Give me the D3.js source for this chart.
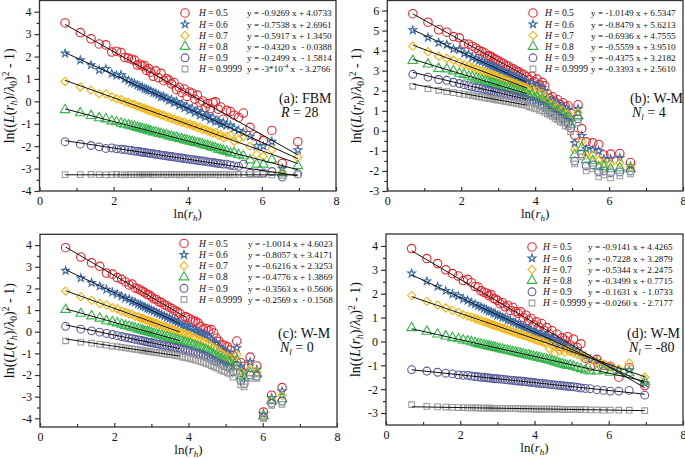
<!DOCTYPE html>
<html><head><meta charset="utf-8">
<script src="https://cdn.jsdelivr.net/npm/d3@7"></script>
<style>
body{margin:0;background:#fff}
svg{display:block}
text{font-family:"Liberation Serif","Times New Roman",serif;fill:#111}
</style>
</head><body>
<svg id="chart" width="685" height="459"></svg>
<script>
// ---------------- DATA ----------------
const hLabels = ["0.5","0.6","0.7","0.8","0.9","0.9999"];
const xTicks = [0,2,4,6,8];
const xMinorTicks = [1,3,5,7];

// ln(r_h) positions
const xCore = [0.69,1.10,1.39,1.61,1.79,1.95,2.08,2.20,2.30,2.40,2.48,2.56,2.64,2.71,2.77,2.83,2.89,2.94,
  3.00,3.07,3.14,3.21,3.28,3.35,3.42,3.49,3.56,3.63,3.70,3.77,3.84,3.91,3.98,4.05,4.12,4.19,4.26,4.33,4.40,4.47,4.54,4.61,4.68,4.75,4.82,4.89,4.96];
const xTailA = [5.05,5.15,5.25,5.37,5.50,5.68,5.86,6.04,6.27,6.55,6.97];
const xTailB = [5.07,5.16,5.26,5.38,5.56,5.72,5.86,6.04,6.29,6.58];
const xTailC = [5.05,5.12,5.20,5.30,5.41,5.50,5.66,5.84,6.02,6.24,6.52];
const xTailD = [5.05,5.15,5.25,5.37,5.50,5.68,5.86,6.04,6.27,6.55,6.97];

// Panel (a) FBM R=28
const aRed = [3.50,3.07,2.79,2.56,2.52,2.20,2.24,2.18,1.96,1.93,1.88,1.84,1.62,1.66,1.58,1.60,1.38,1.47,
  1.30,1.12,1.36,1.05,1.25,0.92,1.02,0.95,0.78,0.84,0.52,0.62,0.40,0.55,0.22,0.42,0.36,0.10,0.28,-0.05,0.02,-0.28,-0.10,-0.32,-0.05,-0.02,-0.35,-0.25,-0.80,
  -0.40,-0.45,-0.62,-0.72,-0.52,-1.16,-1.57,-1.75,-1.30,-2.77,-1.80];
const aBlue = [2.14,1.84,1.62,1.40,1.45,1.24,1.15,1.18,1.00,0.93,0.84,0.80,0.72,0.66,0.64,0.56,0.54,0.50,
  0.46,0.38,0.36,0.30,0.20,0.22,0.14,0.04,0.08,-0.06,-0.02,-0.18,-0.12,-0.30,-0.22,-0.40,-0.32,-0.50,-0.42,-0.62,-0.52,-0.70,-0.64,-0.82,-0.72,-0.90,-0.88,-1.02,-0.95,
  -1.08,-1.07,-1.20,-1.30,-1.40,-1.57,-2.00,-2.00,-1.80,-3.00,-2.17];
const aYellow = [0.89,0.64,0.50,0.33,0.33,0.20,0.12,0.08,-0.02,-0.05,-0.12,-0.14,-0.22,-0.24,-0.30,-0.30,-0.38,-0.37,
  -0.44,-0.46,-0.52,-0.53,-0.60,-0.62,-0.70,-0.70,-0.78,-0.78,-0.86,-0.86,-0.94,-0.93,-1.02,-1.00,-1.08,-1.10,-1.18,-1.15,-1.26,-1.25,-1.33,-1.36,-1.42,-1.40,-1.52,-1.50,-1.62,
  -1.56,-1.52,-1.78,-1.70,-1.57,-2.00,-2.37,-2.44,-2.15,-3.15,-2.50];
const aGreen = [-0.38,-0.52,-0.64,-0.74,-0.79,-0.88,-0.92,-0.98,-1.03,-1.06,-1.10,-1.13,-1.17,-1.20,-1.22,-1.26,-1.27,-1.30,
  -1.33,-1.37,-1.38,-1.43,-1.44,-1.49,-1.50,-1.55,-1.56,-1.61,-1.62,-1.67,-1.68,-1.72,-1.74,-1.78,-1.80,-1.84,-1.86,-1.88,-1.92,-1.96,-1.98,-2.02,-2.06,-2.08,-2.14,-2.16,-2.20,
  -2.24,-2.31,-2.30,-2.38,-2.44,-2.62,-2.81,-2.81,-2.60,-3.20,-2.88];
const aPurple = [-1.80,-1.91,-1.97,-2.03,-2.10,-2.08,-2.12,-2.14,-2.15,-2.18,-2.19,-2.22,-2.23,-2.25,-2.27,-2.28,-2.30,-2.31,
  -2.32,-2.34,-2.36,-2.37,-2.40,-2.41,-2.43,-2.45,-2.46,-2.48,-2.50,-2.52,-2.53,-2.55,-2.57,-2.58,-2.60,-2.62,-2.63,-2.65,-2.66,-2.68,-2.70,-2.71,-2.73,-2.75,-2.77,-2.78,-2.80,
  -2.80,-2.85,-2.88,-2.90,-2.80,-3.20,-3.20,-3.20,-3.13,-3.38,-3.24];
const aGray = [-3.27,-3.27,-3.26,-3.27,-3.28,-3.27,-3.26,-3.27,-3.28,-3.27,-3.27,-3.26,-3.27,-3.28,-3.27,-3.27,-3.26,-3.27,
  -3.27,-3.28,-3.27,-3.26,-3.27,-3.27,-3.28,-3.27,-3.26,-3.27,-3.27,-3.28,-3.27,-3.26,-3.27,-3.27,-3.28,-3.27,-3.26,-3.27,-3.27,-3.28,-3.27,-3.26,-3.27,-3.27,-3.28,-3.27,-3.27,
  -3.27,-3.28,-3.27,-3.26,-3.27,-3.28,-3.27,-3.27,-3.28,-3.30,-3.27];

// Panel (b) W-M Nl=4
const bRed = [5.84,5.42,5.04,4.92,4.70,4.64,4.34,4.32,4.22,4.12,4.00,3.95,3.88,3.75,3.74,3.68,3.60,3.56,
  3.50,3.42,3.36,3.26,3.22,3.12,3.08,2.98,2.94,2.84,2.80,2.70,
  2.55,2.72,2.45,2.58,2.30,2.42,2.25,1.85,1.62,1.70,1.45,1.55,1.30,1.40,1.20,1.25,0.88,
  -0.22,1.30,0.11,-0.55,-0.60,-0.68,-1.20,-1.16,-1.13,-1.58];
const bBlue = [5.02,4.66,4.40,4.30,4.08,4.05,3.86,3.80,3.66,3.60,3.50,3.46,3.38,3.33,3.27,3.22,3.18,3.12,
  3.08,3.00,2.96,2.90,2.84,2.78,2.72,2.66,2.60,2.54,2.48,2.42,
  2.28,2.41,2.18,2.28,2.04,2.14,1.98,1.65,1.45,1.50,1.28,1.35,1.13,1.20,1.01,1.04,0.69,
  -0.60,1.10,-0.25,-0.90,-0.95,-1.00,-1.40,-1.40,-1.35,-1.75];
const bYellow = [4.22,3.95,3.72,3.62,3.52,3.40,3.30,3.24,3.16,3.08,3.03,2.98,2.92,2.88,2.83,2.80,2.75,2.72,
  2.67,2.63,2.57,2.53,2.48,2.43,2.38,2.34,2.28,2.24,2.18,2.14,
  2.02,2.12,1.93,2.00,1.80,1.87,1.73,1.46,1.29,1.32,1.13,1.16,0.97,1.01,0.83,0.84,0.52,
  -0.95,0.92,-0.55,-1.20,-1.20,-1.48,-1.60,-1.65,-1.60,-1.80];
const bGreen = [3.50,3.32,3.10,3.08,2.98,2.86,2.80,2.72,2.68,2.62,2.57,2.53,2.48,2.45,2.41,2.38,2.34,2.32,
  2.28,2.24,2.21,2.16,2.13,2.09,2.05,2.01,1.97,1.93,1.89,1.85,
  1.74,1.80,1.65,1.69,1.53,1.57,1.45,1.25,1.12,1.11,0.95,0.95,0.79,0.80,0.63,0.62,0.32,
  -1.20,0.75,-0.85,-1.45,-1.50,-1.80,-1.80,-1.90,-1.85,-1.90];
const bPurple = [2.82,2.68,2.56,2.52,2.42,2.36,2.30,2.25,2.20,2.16,2.13,2.09,2.06,2.03,2.00,1.98,1.95,1.93,
  1.90,1.87,1.84,1.81,1.78,1.75,1.72,1.69,1.66,1.63,1.60,1.57,
  1.47,1.49,1.39,1.40,1.28,1.28,1.19,1.05,0.95,0.92,0.79,0.75,0.62,0.60,0.44,0.41,0.14,
  -1.50,0.60,-1.15,-1.75,-1.70,-2.05,-2.00,-2.10,-2.05,-2.00];
const bGray = [2.22,2.10,2.02,1.96,1.90,1.86,1.82,1.79,1.76,1.73,1.70,1.68,1.65,1.63,1.61,1.59,1.57,1.55,
  1.53,1.51,1.48,1.46,1.44,1.41,1.39,1.37,1.34,1.32,1.29,1.27,
  1.20,1.18,1.12,1.10,1.02,1.00,0.92,0.85,0.78,0.72,0.62,0.55,0.45,0.40,0.25,0.20,-0.05,
  -1.65,0.40,-1.30,-2.00,-1.90,-2.30,-2.20,-2.35,-2.25,-2.15];

// Panel (c) W-M Nl=0
const cRed = [3.88,3.45,3.18,3.02,2.71,2.66,2.50,2.42,2.30,2.16,2.20,2.02,1.98,1.92,1.86,1.80,1.72,1.70,
  1.62,1.52,1.48,1.38,1.35,1.24,1.20,1.12,1.06,0.98,0.92,0.84,0.55,0.70,
  0.65,0.58,0.50,0.48,0.40,0.25,0.12,0.15,0.05,0.10,-0.06,-0.30,-0.45,-0.60,-0.62,
  -0.70,-0.85,-1.10,-0.43,-1.43,-1.59,-1.17,-1.58,-3.71,-2.93,-2.58];
const cBlue = [2.82,2.48,2.26,2.10,1.95,1.82,1.74,1.64,1.55,1.50,1.40,1.36,1.28,1.24,1.18,1.14,1.08,1.05,
  1.00,0.95,0.88,0.84,0.77,0.72,0.66,0.61,0.55,0.50,0.44,0.38,
  0.30,0.28,0.20,0.18,0.10,0.05,-0.02,-0.05,-0.12,-0.15,-0.25,-0.35,-0.48,-0.55,-0.70,-0.80,-0.88,
  -0.95,-1.05,-1.25,-0.75,-1.60,-1.80,-1.40,-1.75,-3.80,-3.05,-2.75];
const cYellow = [1.88,1.62,1.45,1.30,1.24,1.10,1.05,0.95,0.90,0.82,0.80,0.72,0.70,0.63,0.61,0.56,0.53,0.49,
  0.46,0.41,0.38,0.32,0.29,0.24,0.20,0.15,0.12,0.06,0.03,-0.02,
  -0.08,-0.10,-0.16,-0.18,-0.25,-0.30,-0.36,-0.40,-0.46,-0.50,-0.58,-0.65,-0.75,-0.82,-0.92,-1.00,-1.08,
  -1.15,-1.25,-1.45,-1.05,-1.85,-2.00,-1.70,-1.85,-3.85,-3.15,-2.95];
const cGreen = [1.02,0.84,0.72,0.62,0.50,0.45,0.40,0.34,0.28,0.24,0.20,0.16,0.12,0.09,0.06,0.03,0.00,-0.02,
  -0.05,-0.08,-0.12,-0.15,-0.18,-0.22,-0.25,-0.28,-0.32,-0.35,-0.38,-0.42,
  -0.47,-0.49,-0.54,-0.56,-0.62,-0.66,-0.70,-0.74,-0.80,-0.84,-0.90,-0.96,-1.04,-1.10,-1.18,-1.25,-1.32,
  -1.38,-1.45,-1.62,-1.30,-2.05,-2.15,-1.90,-1.95,-3.90,-3.20,-3.10];
const cPurple = [0.25,0.12,0.04,-0.02,-0.08,-0.13,-0.18,-0.22,-0.26,-0.29,-0.32,-0.35,-0.38,-0.40,-0.42,-0.45,-0.47,-0.49,
  -0.51,-0.53,-0.56,-0.58,-0.61,-0.63,-0.66,-0.68,-0.71,-0.73,-0.76,-0.78,
  -0.82,-0.84,-0.88,-0.90,-0.95,-0.98,-1.02,-1.05,-1.10,-1.14,-1.20,-1.26,-1.33,-1.38,-1.45,-1.50,-1.56,
  -1.62,-1.68,-1.85,-1.55,-2.25,-2.40,-2.00,-2.05,-3.95,-3.30,-3.20];
const cGray = [-0.42,-0.48,-0.53,-0.58,-0.62,-0.66,-0.69,-0.72,-0.75,-0.77,-0.79,-0.81,-0.83,-0.85,-0.87,-0.88,-0.90,-0.91,
  -0.93,-0.95,-0.96,-0.98,-1.00,-1.02,-1.04,-1.05,-1.07,-1.09,-1.11,-1.13,
  -1.17,-1.19,-1.22,-1.24,-1.28,-1.31,-1.35,-1.38,-1.42,-1.46,-1.51,-1.56,-1.62,-1.67,-1.73,-1.78,-1.84,
  -1.90,-1.96,-2.10,-1.85,-2.45,-2.55,-2.15,-2.15,-4.00,-3.40,-3.35];

// Panel (d) W-M Nl=-80
const dRed = [3.89,3.47,3.26,3.00,2.84,2.74,2.55,2.60,2.46,2.30,2.28,2.12,2.06,2.02,1.92,1.96,1.80,1.78,
  1.72,1.58,1.62,1.45,1.52,1.30,1.42,1.25,1.18,1.24,1.00,1.10,0.88,0.96,0.70,0.82,0.60,0.75,0.45,0.58,0.30,0.45,0.12,0.30,-0.20,0.15,0.05,0.20,-0.15,
  0.10,-0.25,-0.10,-0.70,-1.05,-0.75,-1.00,-1.05,-1.50,-1.10,-1.85];
const dBlue = [2.85,2.52,2.30,2.12,1.98,1.90,1.78,1.72,1.62,1.56,1.48,1.44,1.38,1.33,1.27,1.25,1.19,1.17,
  1.10,1.08,1.00,0.98,0.90,0.88,0.80,0.78,0.70,0.68,0.60,0.57,0.50,0.48,0.40,0.38,0.30,0.32,0.20,0.22,0.10,0.12,0.00,0.02,-0.10,-0.08,-0.20,-0.22,-0.30,
  -0.35,-0.42,-0.52,-0.62,-0.75,-0.80,-1.00,-1.05,-1.20,-1.20,-1.75];
const dYellow = [1.92,1.68,1.52,1.40,1.30,1.22,1.12,1.06,1.02,0.96,0.90,0.88,0.82,0.80,0.76,0.72,0.70,0.66,
  0.62,0.60,0.55,0.52,0.48,0.44,0.40,0.36,0.32,0.30,0.26,0.22,0.18,0.14,0.10,0.06,0.02,0.00,-0.05,-0.08,-0.30,-0.15,-0.50,-0.20,-0.40,-0.30,-0.45,-0.35,-0.42,
  -0.48,-0.55,-0.60,-0.65,-0.80,-0.85,-0.95,-1.05,-1.15,-0.90,-1.50];
const dGreen = [0.57,0.42,0.30,0.22,0.15,0.10,0.05,0.02,-0.02,-0.06,-0.10,-0.12,-0.15,-0.18,-0.20,-0.22,-0.24,-0.26,
  -0.28,-0.31,-0.33,-0.36,-0.38,-0.41,-0.43,-0.46,-0.48,-0.51,-0.53,-0.56,-0.58,-0.61,-0.63,-0.66,-0.68,-0.71,-0.73,-0.76,-0.78,-0.82,-0.86,-0.88,-0.92,-0.95,-0.98,-1.02,-1.00,
  -1.05,-1.10,-1.15,-1.20,-1.25,-1.25,-1.22,-1.30,-1.30,-1.32,-1.67];
const dPurple = [-1.18,-1.24,-1.29,-1.33,-1.36,-1.40,-1.42,-1.42,-1.45,-1.47,-1.48,-1.50,-1.50,-1.52,-1.53,-1.54,-1.55,-1.56,
  -1.56,-1.58,-1.58,-1.60,-1.61,-1.62,-1.63,-1.65,-1.66,-1.66,-1.68,-1.69,-1.70,-1.71,-1.72,-1.74,-1.75,-1.76,-1.77,-1.78,-1.80,-1.81,-1.82,-1.83,-1.84,-1.85,-1.87,-1.88,-1.89,
  -1.90,-1.92,-1.95,-1.97,-1.98,-2.02,-2.05,-2.08,-2.08,-2.05,-2.25];
const dGray = [-2.65,-2.72,-2.74,-2.75,-2.76,-2.77,-2.77,-2.78,-2.78,-2.78,-2.78,-2.79,-2.79,-2.79,-2.79,-2.79,-2.80,-2.80,
  -2.80,-2.80,-2.80,-2.80,-2.81,-2.81,-2.81,-2.81,-2.81,-2.82,-2.82,-2.82,-2.82,-2.82,-2.83,-2.83,-2.83,-2.83,-2.83,-2.84,-2.84,-2.84,-2.84,-2.84,-2.84,-2.85,-2.85,-2.85,-2.85,
  -2.85,-2.85,-2.86,-2.86,-2.87,-2.87,-2.88,-2.88,-2.88,-2.88,-2.90];

// fitted lines: [slope, intercept]
const fitA = [[-0.9269,4.0733],[-0.7538,2.6961],[-0.5917,1.3450],[-0.4320,-0.0388],[-0.2499,-1.5814],[-0.0003,-3.2766]];
const fitB = [[-1.0149,6.5347],[-0.8479,5.6213],[-0.6936,4.7555],[-0.5559,3.9510],[-0.4375,3.2182],[-0.3393,2.5610]];
const fitC = [[-1.0014,4.6023],[-0.8057,3.4171],[-0.6216,2.3253],[-0.4776,1.3869],[-0.3563,0.5606],[-0.2569,-0.1568]];
const fitD = [[-0.9141,4.4265],[-0.7228,3.2879],[-0.5344,2.2475],[-0.3499,0.7715],[-0.1631,-1.0733],[-0.0260,-2.7177]];
// fit x-ranges
const fitRangeA = [[0.69,6.97],[0.69,6.97],[0.69,6.97],[0.69,6.97],[0.69,6.97],[0.69,6.97]];
const fitRangeB = [[0.69,3.77],[0.69,3.77],[0.69,3.77],[0.69,3.77],[0.69,3.77],[0.69,3.77]];
const fitRangeC = [[0.69,3.91],[0.69,3.77],[0.69,3.77],[0.69,3.77],[0.69,3.77],[0.69,3.77]];
const fitRangeD = [[0.69,6.97],[0.69,6.97],[0.69,6.97],[0.69,6.97],[0.69,6.97],[0.69,6.97]];

// legend equation texts
const eqA = ["y = -0.9269 x + 4.0733","y = -0.7538 x + 2.6961","y = -0.5917 x + 1.3450","y = -0.4320 x  - 0.0388","y = -0.2499 x  - 1.5814","y = -3*10|-4| x  - 3.2766"];
const eqB = ["y = -1.0149 x + 6.5347","y = -0.8479 x + 5.6213","y = -0.6936 x + 4.7555","y = -0.5559 x + 3.9510","y = -0.4375 x + 3.2182","y = -0.3393 x + 2.5610"];
const eqC = ["y = -1.0014 x + 4.6023","y = -0.8057 x + 3.4171","y = -0.6216 x + 2.3253","y = -0.4776 x + 1.3869","y = -0.3563 x + 0.5606","y = -0.2569 x  - 0.1568"];
const eqD = ["y = -0.9141 x + 4.4265","y = -0.7228 x + 3.2879","y = -0.5344 x + 2.2475","y = -0.3499 x + 0.7715","y = -0.1631 x  - 1.0733","y = -0.0260 x  - 2.7177"];

const yTicksA = [-4,-3,-2,-1,0,1,2,3,4];
const yTicksB = [-3,-2,-1,0,1,2,3,4,5,6];
const yTicksC = [-4,-3,-2,-1,0,1,2,3,4];
const yTicksD = [-3,-2,-1,0,1,2,3,4];

// ---------------- STYLE / LAYOUT ----------------
const colors = ["#e8242b","#3a6aa5","#f5b50f","#35b54a","#5a5a9a","#9c9c9c"];
const symTypes = [d3.symbolCircle, d3.symbolStar, d3.symbolSquare, d3.symbolTriangle, d3.symbolCircle, d3.symbolSquare];
const symSizes = [56, 19, 34, 40, 48, 32];

const panels = [
  {left:39.5, right:336, top:0.5, bottom:191, yDom:[-4,4.5], yTicks:yTicksA, xs:xCore.concat(xTailA),
   series:[aRed,aBlue,aYellow,aGreen,aPurple,aGray], fit:fitA, fr:fitRangeA, eq:eqA,
   legY:13, legMk:185, legH:199, legEq:247, tag:"(a): FBM", tag2:["R"," = 28",null], tagX:279, tagY:103},
  {left:387.3, right:683, top:0.5, bottom:191, yDom:[-3,6.5], yTicks:yTicksB, xs:xCore.concat(xTailB),
   series:[bRed,bBlue,bYellow,bGreen,bPurple,bGray], fit:fitB, fr:fitRangeB, eq:eqB,
   legY:13, legMk:533, legH:545, legEq:591, tag:"(b): W-M", tag2:["N"," = 4","l"], tagX:630, tagY:103},
  {left:40, right:337, top:234.3, bottom:427, yDom:[-4.4,4.5], yTicks:yTicksC, xs:xCore.concat(xTailC),
   series:[cRed,cBlue,cYellow,cGreen,cPurple,cGray], fit:fitC, fr:fitRangeC, eq:eqC,
   legY:243.5, legMk:184, legH:199, legEq:248, tag:"(c): W-M", tag2:["N"," = 0","l"], tagX:278, tagY:338},
  {left:386, right:683, top:234, bottom:425, yDom:[-3.5,4.5], yTicks:yTicksD, xs:xCore.concat(xTailD),
   series:[dRed,dBlue,dYellow,dGreen,dPurple,dGray], fit:fitD, fr:fitRangeD, eq:eqD,
   legY:247, legMk:532, legH:543, legEq:588, tag:"(d): W-M", tag2:["N"," = -80","l"], tagX:627, tagY:338},
];

const svg = d3.select("#chart");

function symbolPath(i){ return d3.symbol().type(symTypes[i]).size(symSizes[i])(); }
function rot(i){ return i===2 ? " rotate(45)" : ""; }

panels.forEach(p => {
  const x = d3.scaleLinear().domain([0,8]).range([p.left, p.right]);
  const y = d3.scaleLinear().domain(p.yDom).range([p.bottom, p.top]);
  const g = svg.append("g");

  // markers
  p.series.forEach((ys, i) => {
    const pts = ys.map((v, j) => [p.xs[j], v]);
    g.append("g").selectAll("path").data(pts).join("path")
      .attr("transform", d => `translate(${x(d[0])},${y(d[1])})${rot(i)}`)
      .attr("d", symbolPath(i))
      .attr("fill", "none").attr("stroke", colors[i]).attr("stroke-width", 1.1);
  });

  // fitted lines
  const line = d3.line().x(d => x(d[0])).y(d => y(d[1]));
  p.fit.forEach((f, i) => {
    const r = p.fr[i];
    g.append("path").attr("d", line([[r[0], f[0]*r[0]+f[1]], [r[1], f[0]*r[1]+f[1]]]))
      .attr("stroke", "#111").attr("stroke-width", 1).attr("fill", "none");
  });

  // frame
  g.append("rect").attr("x", p.left).attr("y", p.top).attr("width", p.right-p.left).attr("height", p.bottom-p.top)
    .attr("fill", "none").attr("stroke", "#333").attr("stroke-width", 1.3);

  // y axis
  const ya = g.append("g").attr("transform", `translate(${p.left},0)`)
    .call(d3.axisLeft(y).tickValues(p.yTicks).tickSize(5).tickPadding(3).tickFormat(d => String(d)));
  const yMinor = p.yTicks.map(v => v+0.5).filter(v => v < p.yDom[1]);
  const ym = g.append("g").attr("transform", `translate(${p.left},0)`)
    .call(d3.axisLeft(y).tickValues(yMinor).tickSize(3).tickFormat(""));
  // x axis
  const xa = g.append("g").attr("transform", `translate(0,${p.bottom})`)
    .call(d3.axisBottom(x).tickValues(xTicks).tickSizeInner(-4).tickSizeOuter(0).tickPadding(5).tickFormat(d => String(d)));
  const xm = g.append("g").attr("transform", `translate(0,${p.bottom})`)
    .call(d3.axisBottom(x).tickValues(xMinorTicks).tickSizeInner(-3).tickSizeOuter(0).tickFormat(""));
  [ya, ym, xa, xm].forEach(a => {
    a.select(".domain").remove();
    a.selectAll("line").attr("stroke", "#333").attr("stroke-width", 1.2);
    a.selectAll("text").attr("font-size", 12).attr("fill", "#111").style("font-family", '"Liberation Serif",serif');
  });

  // axis titles
  const xl = g.append("text").attr("x", (p.left+p.right)/2).attr("y", p.bottom + 27)
    .attr("text-anchor", "middle").attr("font-size", 13);
  xl.append("tspan").text("ln(");
  xl.append("tspan").attr("font-style", "italic").text("r");
  xl.append("tspan").attr("font-style", "italic").attr("font-size", 9).attr("dy", 3).text("h");
  xl.append("tspan").attr("dy", -3).text(")");

  const cy = (p.top + p.bottom)/2;
  const yl = g.append("text").attr("transform", `translate(${p.left-26},${cy}) rotate(-90)`)
    .attr("text-anchor", "middle").attr("font-size", 14);
  yl.append("tspan").text("ln((");
  yl.append("tspan").attr("font-style", "italic").text("L");
  yl.append("tspan").text("(");
  yl.append("tspan").attr("font-style", "italic").text("r");
  yl.append("tspan").attr("font-style", "italic").attr("font-size", 9.5).attr("dy", 3).text("h");
  yl.append("tspan").attr("dy", -3).text(")/");
  yl.append("tspan").attr("font-style", "italic").text("λ");
  yl.append("tspan").attr("font-size", 9.5).attr("dy", 3).text("0");
  yl.append("tspan").attr("dy", -3).text(")");
  yl.append("tspan").attr("font-size", 9.5).attr("dy", -5).text("2");
  yl.append("tspan").attr("dy", 5).text(" - 1)");

  // legend
  const rowH = 11.2;
  p.series.forEach((s, i) => {
    const ry = p.legY + i*rowH;
    g.append("path").attr("transform", `translate(${p.legMk},${ry})${rot(i)}`)
      .attr("d", symbolPath(i)).attr("fill", "none").attr("stroke", colors[i]).attr("stroke-width", 1.1);
    const ht = g.append("text").attr("x", p.legH).attr("y", ry + 3.3).attr("font-size", 9.5);
    ht.append("tspan").attr("font-style", "italic").text("H");
    ht.append("tspan").text(" = " + hLabels[i]);
    const et = g.append("text").attr("x", p.legEq).attr("y", ry + 3.3).attr("font-size", 9.2).attr("xml:space","preserve");
    const parts = p.eq[i].split("|");
    if (parts.length === 3) {
      et.append("tspan").text(parts[0]);
      et.append("tspan").attr("font-size", 6.5).attr("dy", -4).text(parts[1]);
      et.append("tspan").attr("dy", 4).text(parts[2]);
    } else {
      et.text(parts[0]);
    }
  });

  // tag
  g.append("text").attr("x", p.tagX).attr("y", p.tagY).attr("font-size", 14).text(p.tag);
  const t2 = g.append("text").attr("x", p.tagX + 2).attr("y", p.tagY + 14).attr("font-size", 14);
  t2.append("tspan").attr("font-style", "italic").text(p.tag2[0]);
  if (p.tag2[2]) t2.append("tspan").attr("font-style", "italic").attr("font-size", 9).attr("dy", 3).text(p.tag2[2]);
  t2.append("tspan").attr("dy", p.tag2[2] ? -3 : 0).text(p.tag2[1]);
});
</script>
</body></html>
